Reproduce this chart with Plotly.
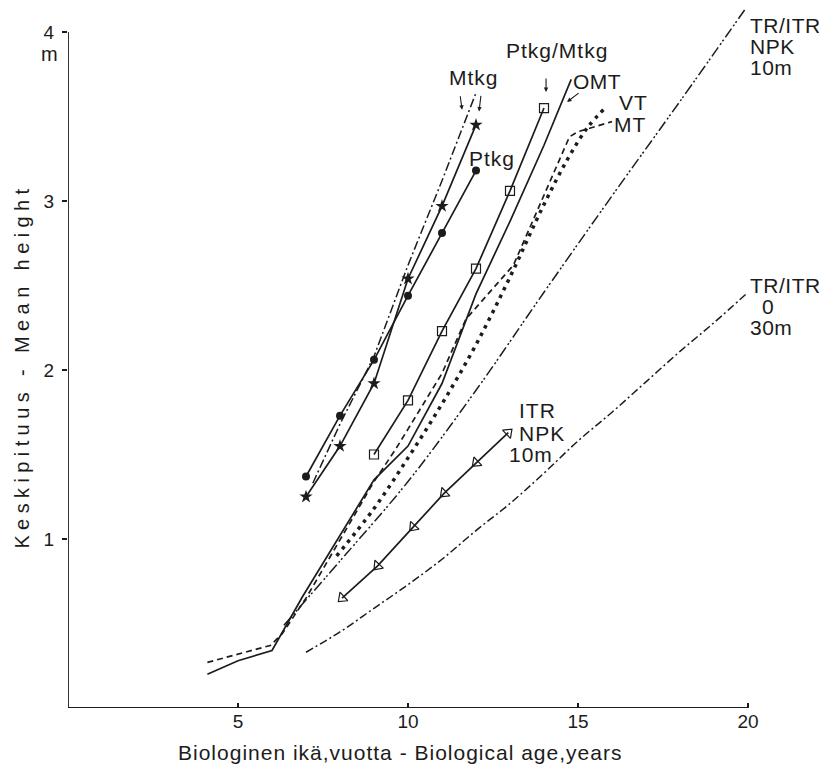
import math
import plotly.graph_objects as go

# ---------------- data ----------------
age_ticks = [5, 10, 15, 20]
height_ticks = [1, 2, 3, 4]

mtkg_star_x = [7, 8, 9, 10, 11, 12]
mtkg_star_y = [1.25, 1.55, 1.92, 2.54, 2.97, 3.45]

ptkg_x = [7, 8, 9, 10, 11, 12]
ptkg_y = [1.37, 1.73, 2.06, 2.44, 2.81, 3.18]

mtkg_line_x = [7.2, 8, 9, 10, 11, 12]
mtkg_line_y = [1.33, 1.68, 2.08, 2.62, 3.12, 3.64]

ptkg_mtkg_x = [9, 10, 11, 12, 13, 14]
ptkg_mtkg_y = [1.50, 1.82, 2.23, 2.60, 3.06, 3.55]

omt_x = [4.1, 5, 6, 6.9, 9, 10, 11, 12, 13, 14, 14.8]
omt_y = [0.20, 0.28, 0.34, 0.66, 1.35, 1.55, 1.92, 2.45, 2.88, 3.33, 3.72]

mt_x = [4.1, 5.95, 6.3, 7, 9, 9.6, 10, 11, 11.7, 13.1, 14.75, 15.0, 16.0]
mt_y = [0.27, 0.37, 0.44, 0.65, 1.34, 1.52, 1.65, 1.98, 2.30, 2.62, 3.38, 3.41, 3.47]

vt_x = [7.9, 9, 10, 11, 12, 13, 14, 14.7, 15.3, 15.85]
vt_y = [0.90, 1.18, 1.48, 1.80, 2.15, 2.55, 2.98, 3.25, 3.44, 3.56]

tr_npk_x = [6.35, 8, 10, 12, 14, 16, 18, 19.9]
tr_npk_y = [0.49, 0.87, 1.34, 1.88, 2.46, 3.03, 3.59, 4.13]

tr_0_x = [7, 8, 9, 10, 11, 12, 13, 14, 15, 16, 17, 18, 19, 20]
tr_0_y = [0.33, 0.45, 0.59, 0.73, 0.88, 1.05, 1.21, 1.39, 1.58, 1.75, 1.93, 2.11, 2.28, 2.46]

itr_x = [12.95, 12.0, 11.06, 10.15, 9.1, 8.06]
itr_y = [1.63, 1.45, 1.27, 1.07, 0.84, 0.65]

# ---------------- geometry / styling ----------------
INK = "#1c1c1c"
FONT = "Liberation Sans, Arial, sans-serif"
LW = 1.7

FIG_W, FIG_H = 819, 760          # page body has an 8px margin
M_L, M_B, M_T = 60, 60, 0
X_MAX = 22.0
PLOT_W = FIG_W - M_L - 11
PLOT_H = FIG_H - M_B - M_T
X_SCALE = PLOT_W / X_MAX                 # px per year
Y_SCALE = 169.0                          # px per metre
Y_MAX = PLOT_H / Y_SCALE

fig = go.Figure()


def add(x, y, dash="solid", mode="lines", marker=None, shape="linear", width=LW):
    fig.add_trace(go.Scatter(
        x=x, y=y, mode=mode, line=dict(color=INK, width=width, dash=dash, shape=shape),
        marker=marker, showlegend=False, hoverinfo="skip", cliponaxis=False))


# orientation of the open triangles along the ITR line (in screen pixels)
def seg_angle(x0, y0, x1, y1):
    dx = (x1 - x0) * X_SCALE
    dy = -(y1 - y0) * Y_SCALE
    return math.degrees(math.atan2(dx, -dy))


itr_angles = [seg_angle(itr_x[1], itr_y[1], itr_x[0], itr_y[0])] + [
    seg_angle(itr_x[i - 1], itr_y[i - 1], itr_x[i], itr_y[i]) for i in range(1, len(itr_x))]

add(tr_0_x, tr_0_y, dash="8px,3px,2px,3px", shape="spline", width=1.5)
add(tr_npk_x, tr_npk_y, dash="11px,3px,2px,2px,2px,3px", shape="spline", width=1.5)
add(vt_x, vt_y, dash="3.5px,5px", shape="spline", width=3.5)
add(mt_x, mt_y, dash="6px,4px")
add(omt_x, omt_y)
add(mtkg_line_x, mtkg_line_y, dash="9px,3px,2px,3px", width=1.5)
add(ptkg_mtkg_x, ptkg_mtkg_y, mode="lines+markers",
    marker=dict(symbol="square-open", size=9, color=INK, line=dict(width=1.2)))
add(ptkg_x, ptkg_y, mode="lines+markers",
    marker=dict(symbol="circle", size=8, color=INK))
add(mtkg_star_x, mtkg_star_y, mode="lines+markers",
    marker=dict(symbol="star", size=10, color=INK))
add(itr_x, itr_y, mode="lines+markers",
    marker=dict(symbol="triangle-up-open", size=10, color=INK, line=dict(width=1.2),
                angle=itr_angles))

# axis lines (ending at 20 years and 4 m)
fig.add_shape(type="line", x0=0, x1=age_ticks[-1], y0=0, y1=0, xref="x", yref="y",
              line=dict(color=INK, width=1.8))
fig.add_shape(type="line", x0=0, x1=0, y0=0, y1=height_ticks[-1], xref="x", yref="y",
              line=dict(color=INK, width=1.8))

tickfont = dict(family=FONT, size=19, color=INK)
common = dict(showgrid=False, zeroline=False, showline=False, tickcolor=INK, tickwidth=1.5)
fig.update_layout(
    width=FIG_W, height=FIG_H,
    margin=dict(l=M_L, r=FIG_W - M_L - PLOT_W, t=M_T, b=M_B),
    paper_bgcolor="white", plot_bgcolor="white",
    xaxis=dict(range=[0, X_MAX], tickvals=age_ticks, ticks="inside", ticklen=5,
               tickfont=tickfont, **common),
    yaxis=dict(range=[0, Y_MAX], tickvals=height_ticks, ticks="outside", ticklen=5,
               ticklabelstandoff=4, tickfont=tickfont, **common),
    xaxis2=dict(range=[0, X_MAX], overlaying="x", anchor="y", tickvals=age_ticks,
                ticks="outside", ticklen=6, showticklabels=False, **common),
    yaxis2=dict(range=[0, Y_MAX], overlaying="y", anchor="x", tickvals=height_ticks,
                ticks="inside", ticklen=4, showticklabels=False, **common),
)


def spaced(text, px):
    return f'<span style="letter-spacing:{px}px">{text}</span>'


def label(text, x, y, xanchor="left", size=21, xref="x", yref="y", ls=1):
    fig.add_annotation(text=spaced(text, ls), x=x, y=y, xref=xref, yref=yref,
                       xanchor=xanchor, yanchor="middle", showarrow=False,
                       font=dict(family=FONT, size=size, color=INK))


def arrow(x, y, ax, ay):
    fig.add_annotation(text="", x=x, y=y, xref="x", yref="y", ax=ax, ay=ay,
                       showarrow=True, arrowhead=2, arrowsize=0.8, arrowwidth=1.1,
                       arrowcolor=INK)


label("Mtkg", 11.94, 3.73, "center")
label("Ptkg", 12.47, 3.25, "center")
label("Ptkg/Mtkg", 14.38, 3.89, "center")
label("OMT", 14.8, 3.705, ls=0.5)
label("VT", 16.15, 3.585)
label("MT", 16.0, 3.45)
arrow(11.59, 3.54, -2, -15)
arrow(12.09, 3.53, 2, -17)
arrow(14.06, 3.645, 0, -15)
arrow(14.68, 3.586, 13, -10)

label("TR/ITR", 20.0, 4.04, ls=0.5)
label("NPK", 20.0, 3.915, ls=0.5)
label("10m", 20.0, 3.79, ls=0.5)

label("TR/ITR", 20.0, 2.50, ls=0.5)
label("0", 20.6, 2.375, "center")
label("30m", 20.0, 2.25, ls=0.5)

label("ITR", 13.2, 1.76)
label("NPK", 13.2, 1.625)
label("10m", 12.9, 1.50)

# unit under the top tick label
label("m", -19 / PLOT_W, 3.87, "center", xref="paper", size=20, ls=0)

fig.add_annotation(text=spaced("Biologinen ikä,vuotta - Biological age,years", 1),
                   x=(392 - M_L) / PLOT_W, y=-(744 - 700) / PLOT_H,
                   xref="paper", yref="paper",
                   showarrow=False, xanchor="center", yanchor="middle",
                   font=dict(family=FONT, size=21, color=INK))
fig.add_annotation(text=spaced("Keskipituus - Mean height", 5.4),
                   x=-(M_L - 14) / PLOT_W, y=2.02, xref="paper", yref="y", textangle=-90,
                   showarrow=False, xanchor="center", yanchor="middle",
                   font=dict(family=FONT, size=20, color=INK))

fig.write_html("out.html")
